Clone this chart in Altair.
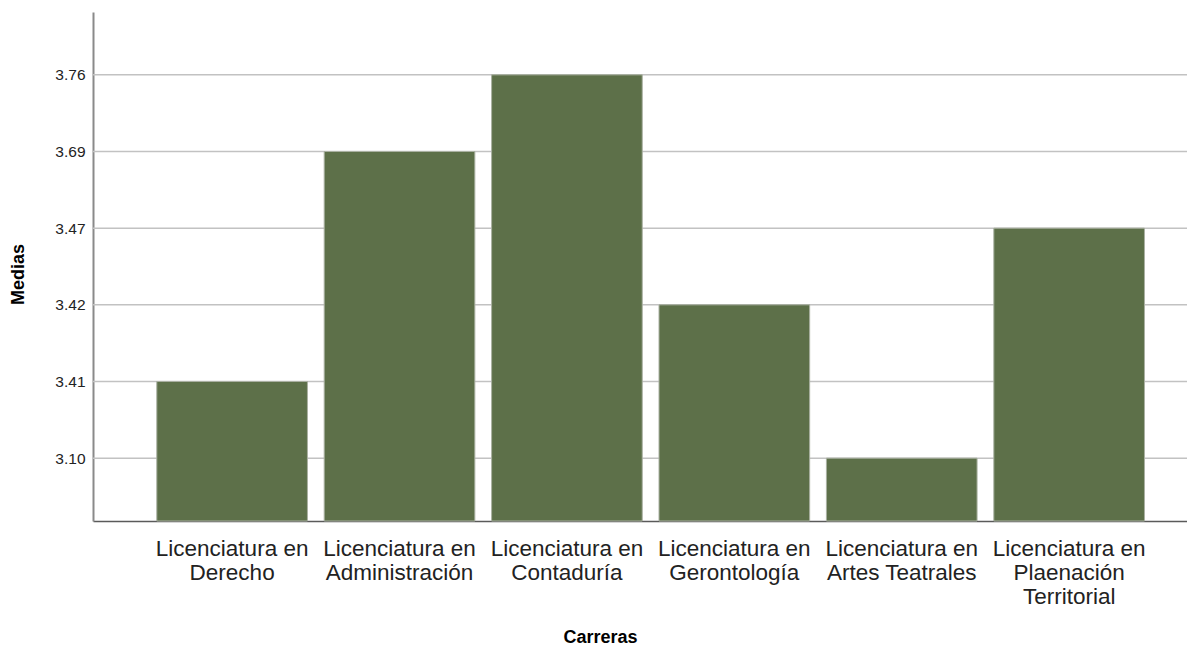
import altair as alt
import pandas as pd

carreras = [
    "Licenciatura en\nDerecho",
    "Licenciatura en\nAdministración",
    "Licenciatura en\nContaduría",
    "Licenciatura en\nGerontología",
    "Licenciatura en\nArtes Teatrales",
    "Licenciatura en\nPlaenación\nTerritorial",
]
medias = [3.41, 3.69, 3.76, 3.42, 3.10, 3.47]

df = pd.DataFrame({"carrera": carreras, "media": medias})

FONT = "Liberation Sans"

y_enc = alt.Y(
    "media:O",
    sort="descending",
    scale=alt.Scale(type="point", padding=0.82),
    axis=alt.Axis(
        title="Medias",
        labelExpr="format(datum.value, '.2f')",
        labelFontSize=15.5,
        labelFont=FONT,
        labelColor="#222222",
        labelPadding=8,
        ticks=False,
        tickSize=0,
        domainColor="#8a8a8a",
        domainWidth=2,
        grid=False,
        titleFont=FONT,
        titleFontSize=18,
        titleFontWeight="bold",
        titleColor="#000000",
        titleAngle=270,
        titleX=-75,
        titleY=262,
        titleAlign="center",
        titleBaseline="middle",
    ),
)

base = alt.Chart(df)

grid = base.mark_rule(color="#c2c2c2", strokeWidth=1.5).encode(
    y=y_enc,
    x=alt.value(0),
    x2=alt.value({"expr": "width"}),
)

bars = base.mark_bar(color="#5d7049", stroke="#aab1a2", strokeWidth=1).encode(
    x=alt.X(
        "carrera:N",
        sort=None,
        scale=alt.Scale(paddingInner=0.1, paddingOuter=0.3175, align=0.6),
        axis=alt.Axis(
            title="Carreras",
            labelAngle=0,
            labelExpr="split(datum.label, '\\n')",
            labelLineHeight=24,
            labelFontSize=22.5,
            labelFont=FONT,
            labelColor="#222222",
            labelPadding=16,
            labelLimit=0,
            labelOverlap=False,
            ticks=False,
            tickSize=0,
            domainColor="#5a5a5a",
            domainWidth=1.5,
            grid=False,
            titleFont=FONT,
            titleFontSize=18,
            titleFontWeight="bold",
            titleColor="#000000",
            titleX=507,
            titleY=121,
            titleBaseline="alphabetic",
            titleAlign="center",
        ),
    ),
    y=y_enc,
    y2=alt.value({"expr": "height"}),
)

chart = (
    alt.layer(grid, bars)
    .properties(
        width=1094,
        height=509,
        background="white",
        title=alt.TitleParams(
            "Medias por Carreras",
            font=FONT,
            fontSize=18,
            fontWeight="bold",
            color="#000000",
            anchor="middle",
            dx=-38,
            offset=2,
            baseline="bottom",
        ),
        autosize=alt.AutoSizeParams(type="none"),
        padding={"left": 85, "top": 4, "right": 0, "bottom": 124},
    )
    .configure_view(strokeWidth=0, stroke="transparent")
)

chart.save("out.html", embed_options={"renderer": "svg", "actions": False})
